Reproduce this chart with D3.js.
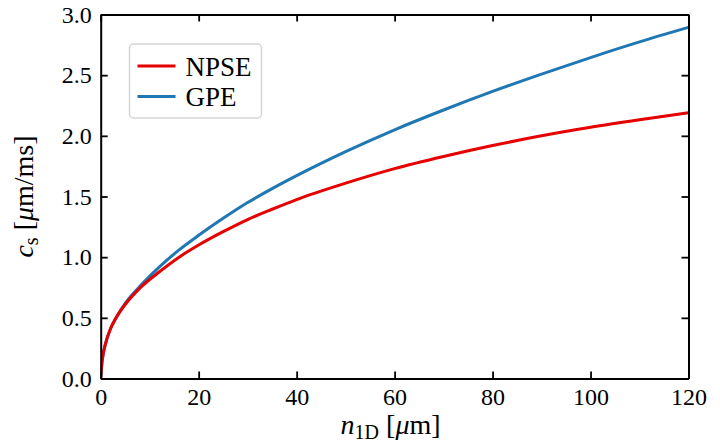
<!DOCTYPE html>
<html>
<head>
<meta charset="utf-8">
<script src="https://cdn.jsdelivr.net/npm/d3@7"></script>
<style>
  body { margin: 0; background: #fff; }
</style>
</head>
<body>
<div id="chart"></div>
<script>
// density values n_1D [um]
const nValues = [0, 0.25, 0.5, 1, 2, 3, 5, 8, 12, 16, 20, 25, 30, 35, 40, 50, 60, 70, 80, 90, 100, 110, 120];
// sound speed
const gpeValues = [0, 0.13, 0.2, 0.29, 0.41, 0.49, 0.62, 0.76, 0.92, 1.06, 1.18, 1.32, 1.45, 1.565, 1.672, 1.87, 2.05, 2.213, 2.366, 2.509, 2.645, 2.774, 2.894];
const npseValues = [0, 0.13, 0.2, 0.29, 0.41, 0.49, 0.61, 0.745, 0.88, 1.0, 1.1, 1.21, 1.31, 1.395, 1.475, 1.61, 1.73, 1.83, 1.92, 2.0, 2.07, 2.132, 2.19];
const xTicks = [0, 20, 40, 60, 80, 100, 120];
const yTicks = [0, 0.5, 1.0, 1.5, 2.0, 2.5, 3.0];
const seriesNames = ["NPSE", "GPE"];

const FONT = '"Liberation Serif"';
const width = 720, height = 448;
const margin = { top: 14.5, right: 31.5, bottom: 69.5, left: 100.7 };
const colors = { NPSE: "#e60000", GPE: "#1f77b4" };

const svg = d3.select("#chart").append("svg")
    .attr("width", width)
    .attr("height", height)
    .style("font-family", FONT);

const x = d3.scaleLinear().domain([0, 120]).range([margin.left, width - margin.right]);
const y = d3.scaleLinear().domain([0, 3]).range([height - margin.bottom, margin.top]);

const line = d3.line()
    .x(d => x(d[0]))
    .y(d => y(d[1]))
    .curve(d3.curveMonotoneX);

const series = {
    NPSE: nValues.map((n, i) => [n, npseValues[i]]),
    GPE: nValues.map((n, i) => [n, gpeValues[i]])
};

const plot = svg.append("g");
plot.append("defs").append("clipPath").attr("id", "clip")
    .append("rect")
    .attr("x", x(0)).attr("y", y(3))
    .attr("width", x(120) - x(0)).attr("height", y(0) - y(3));

// GPE below, NPSE on top
["GPE", "NPSE"].forEach(name => {
    plot.append("path")
        .datum(series[name])
        .attr("clip-path", "url(#clip)")
        .attr("fill", "none")
        .attr("stroke", colors[name])
        .attr("stroke-width", 3)
        .attr("d", line);
});

// axes, ticks inward on all four sides
function styleAxis(g) {
    g.attr("font-family", null);
    g.selectAll(".domain").attr("stroke", "#000").attr("stroke-width", 2);
    g.selectAll(".tick line").attr("stroke", "#000").attr("stroke-width", 1.8);
    g.selectAll(".tick text")
        .attr("fill", "#000")
        .style("font-family", FONT)
        .style("font-size", "24px");
}

svg.append("g")
    .attr("transform", `translate(0,${y(0)})`)
    .call(d3.axisBottom(x).tickValues(xTicks).tickSize(-7).tickSizeOuter(0).tickPadding(9))
    .call(styleAxis);

svg.append("g")
    .attr("transform", `translate(0,${y(3)})`)
    .call(d3.axisTop(x).tickValues(xTicks).tickSize(-7).tickSizeOuter(0).tickFormat(""))
    .call(styleAxis);

svg.append("g")
    .attr("transform", `translate(${x(0)},0)`)
    .call(d3.axisLeft(y).tickValues(yTicks).tickSize(-7).tickSizeOuter(0).tickPadding(9).tickFormat(d3.format(".1f")))
    .call(styleAxis);

svg.append("g")
    .attr("transform", `translate(${x(120)},0)`)
    .call(d3.axisRight(y).tickValues(yTicks).tickSize(-7).tickSizeOuter(0).tickFormat(""))
    .call(styleAxis);

// axis labels
const xLabel = svg.append("text")
    .attr("x", (x(0) + x(120)) / 2 - 4)
    .attr("y", 434)
    .attr("text-anchor", "middle")
    .style("font-family", FONT)
    .style("font-size", "28px");
xLabel.append("tspan").style("font-style", "italic").text("n");
xLabel.append("tspan").attr("dy", 5).style("font-size", "20px").text("1D");
xLabel.append("tspan").attr("dy", -5).text("  [");
xLabel.append("tspan").style("font-style", "italic").text("μ");
xLabel.append("tspan").text("m]");

const yLabel = svg.append("text")
    .attr("transform", `translate(33,${(y(0) + y(3)) / 2}) rotate(-90)`)
    .attr("text-anchor", "middle")
    .style("font-family", FONT)
    .style("font-size", "28px");
yLabel.append("tspan").style("font-style", "italic").text("c");
yLabel.append("tspan").attr("dy", 5).style("font-size", "20px").text("s");
yLabel.append("tspan").attr("dy", -5).text(" [");
yLabel.append("tspan").style("font-style", "italic").text("μ");
yLabel.append("tspan").text("m/ms]");

// legend
const legend = svg.append("g").attr("transform", "translate(129.5,44)");
legend.append("rect")
    .attr("width", 132)
    .attr("height", 74)
    .attr("rx", 4)
    .attr("fill", "#fff")
    .attr("fill-opacity", 0.8)
    .attr("stroke", "#d6d6d6")
    .attr("stroke-width", 1.5);

seriesNames.forEach((name, i) => {
    const row = legend.append("g").attr("transform", `translate(0,${22 + i * 30.5})`);
    row.append("line")
        .attr("x1", 8).attr("x2", 46)
        .attr("stroke", colors[name])
        .attr("stroke-width", 3);
    row.append("text")
        .attr("x", 56)
        .attr("y", 9.5)
        .style("font-family", FONT)
        .style("font-size", "27px")
        .text(name);
});
</script>
</body>
</html>
